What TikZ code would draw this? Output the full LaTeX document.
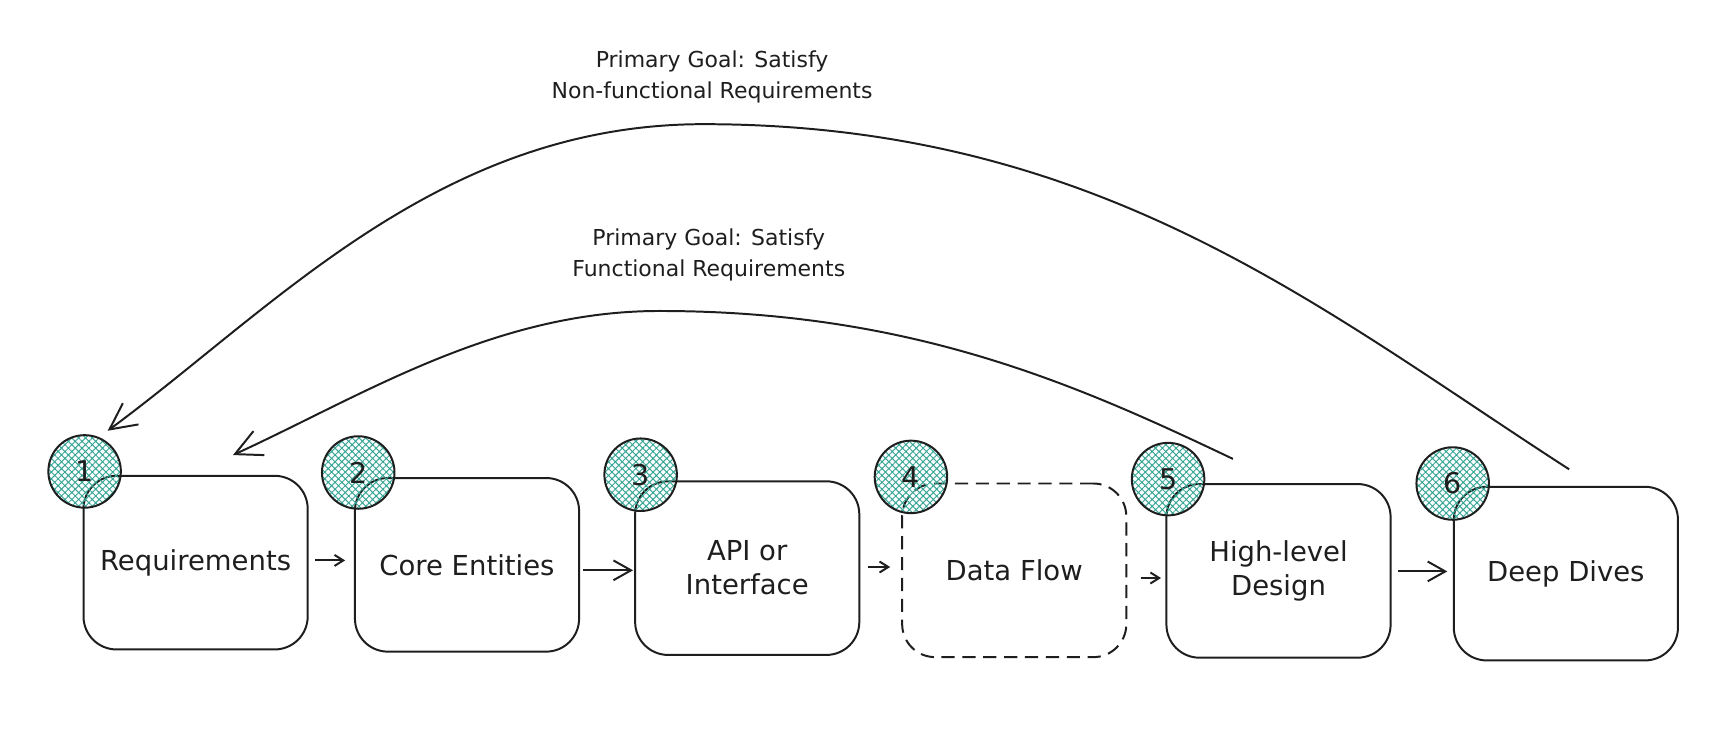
\documentclass[tikz,border=0pt]{standalone}
\usepackage{fontspec}
\setmainfont{DejaVu Sans}
\usetikzlibrary{arrows.meta,patterns.meta}
\definecolor{hatch}{RGB}{56,166,150}
\definecolor{ink}{RGB}{30,30,30}
\begin{document}
\begin{tikzpicture}[x=0.5pt,y=-0.5pt,
  box/.style={draw=ink,line width=0.9pt,rounded corners=15pt,minimum width=102pt,minimum height=79pt,inner sep=0pt,font=\fontsize{12.5}{15.5}\selectfont,align=center,text=ink},
  dbox/.style={box,dash pattern=on 6pt off 3.5pt},
  badge/.style={circle,draw=ink,line width=0.9pt,minimum size=33pt,inner sep=0pt,pattern={Hatch[angle=45,distance=2.2pt,line width=0.45pt]},pattern color=hatch,font=\fontsize{13}{15}\selectfont,text=ink},
  flow/.style={draw=ink,line width=0.9pt,-{Straight Barb[length=4pt,width=5pt]}},
  bigflow/.style={draw=ink,line width=0.9pt,-{Straight Barb[length=8pt,width=9pt]}},
  arc/.style={draw=ink,line width=0.9pt,-{Straight Barb[length=12pt,width=12pt]}},
  goal/.style={font=\fontsize{10}{13.7}\selectfont,align=center,text=ink,inner sep=0pt}
]
\useasboundingbox (0,0) rectangle (1568,681.6);

\node[box]  (b1) at (178,512)    {Requirements};
\node[box]  (b2) at (425,514)    {Core Entities};
\node[box]  (b3) at (680,517)    {API or\\Interface};
\node[dbox] (b4) at (923,519)    {Data Flow};
\node[box]  (b5) at (1163.5,519.5) {High-level\\Design};
\node[box]  (b6) at (1425,522)   {Deep Dives};

\node[badge] (c1) at (77,429)   {1};
\node[badge] (c2) at (326,430)  {2};
\node[badge] (c3) at (583,432)  {3};
\node[badge] (c4) at (829,434)  {4};
\node[badge] (c5) at (1063,436) {5};
\node[badge] (c6) at (1322,440) {6};

\draw[flow]    ([xshift=3pt,yshift=1pt]b1.east) -- ([xshift=-4pt,yshift=2pt]b2.west);
\draw[bigflow] ([xshift=1.5pt,yshift=-2.5pt]b2.east) -- ([xshift=-0.5pt,yshift=-1pt]b3.west);
\draw[flow]    ([xshift=3.5pt,yshift=0.5pt]b3.east) -- ([xshift=-5pt,yshift=1.5pt]b4.west);
\draw[flow]    ([xshift=6pt,yshift=-3.5pt]b4.east) -- ([xshift=-2pt,yshift=-3.25pt]b5.west);
\draw[bigflow] ([xshift=3pt,yshift=-0.25pt]b5.east) -- ([xshift=-2.5pt,yshift=1pt]b6.west);

\draw[arc] ([shift={(3,-15)}]b6.north) .. controls (1200,280) and (1000,113) .. (640,113)
           .. controls (400,113) and (250,280) .. ([shift={(21,-37)}]c1.center);
\draw[arc] ([shift={(-41.5,-22)}]b5.north) .. controls (980,350) and (830,283) .. (600,283)
           .. controls (450,283) and (330,360) .. ([shift={(34,-18)}]b1.north);

\node[goal] (g1) at (648,70)  {Primary Goal: Satisfy\\Non-functional Requirements};
\node[goal] (g2) at (645,232) {Primary Goal: Satisfy\\Functional Requirements};
\end{tikzpicture}
\end{document}
